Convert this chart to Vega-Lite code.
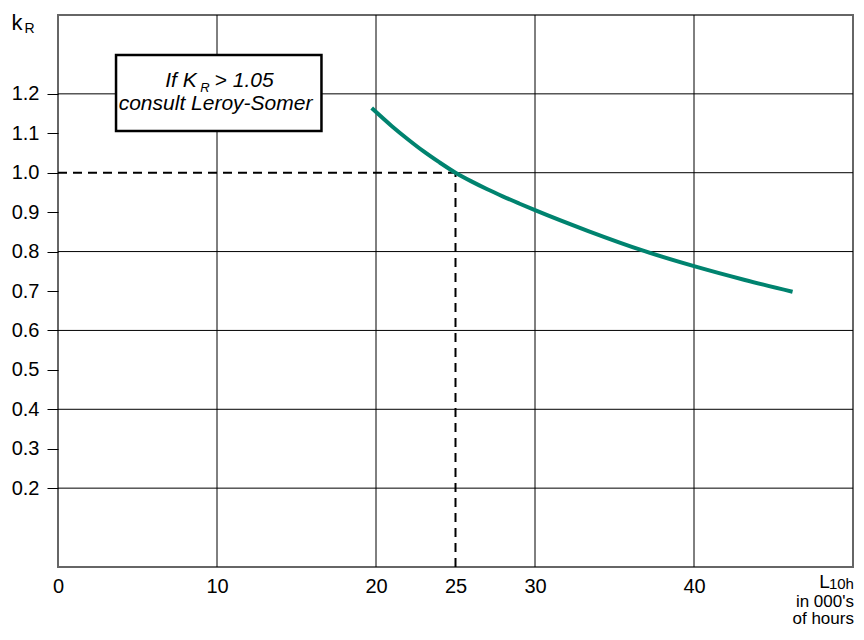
{
  "$schema": "https://vega.github.io/schema/vega-lite/v6.json",
  "width": 795,
  "height": 552,
  "autosize": "none",
  "padding": {"left": 58, "top": 15, "right": 11, "bottom": 73},
  "background": "white",
  "config": {
    "view": {"stroke": "#666666", "strokeWidth": 2},
    "font": "Liberation Sans",
    "axis": {"grid": false, "domain": false, "labelFont": "Liberation Sans", "labelFontSize": 20, "labelColor": "#000000", "title": null}
  },
  "layer": [
    {
      "data": {"values": [{"v": 10}, {"v": 20}, {"v": 30}, {"v": 40}]},
      "mark": {"type": "rule", "color": "#000000", "strokeWidth": 1},
      "encoding": {
        "x": {"field": "v", "type": "quantitative", "scale": {"domain": [0, 50], "nice": false, "zero": false},
          "axis": {"values": [0, 10, 20, 25, 30, 40], "ticks": false, "labelPadding": 9, "labelFlush": false, "labelOverlap": false}}
      }
    },
    {
      "data": {"values": [{"v": 0.2, "a": 0, "b": 50}, {"v": 0.4, "a": 0, "b": 50}, {"v": 0.6, "a": 0, "b": 50}, {"v": 0.8, "a": 0, "b": 50}, {"v": 1.0, "a": 25, "b": 50}, {"v": 1.2, "a": 0, "b": 50}]},
      "mark": {"type": "rule", "color": "#000000", "strokeWidth": 1},
      "encoding": {
        "y": {"field": "v", "type": "quantitative", "scale": {"domain": [0, 1.4], "nice": false, "zero": false},
          "axis": {"values": [0.2, 0.3, 0.4, 0.5, 0.6, 0.7, 0.8, 0.9, 1.0, 1.1, 1.2], "format": ".1f", "tickSize": 11, "tickColor": "#000000", "tickWidth": 1, "labelPadding": 8, "labelFlush": false, "labelOverlap": false}},
        "x": {"field": "a", "type": "quantitative"},
        "x2": {"field": "b"}
      }
    },
    {
      "data": {"values": [{"x1": 3.65, "x2": 16.57, "y1": 1.1057, "y2": 1.2985}]},
      "mark": {"type": "rect", "fill": "white", "stroke": "#000000", "strokeWidth": 2.5},
      "encoding": {
        "x": {"field": "x1", "type": "quantitative"},
        "x2": {"field": "x2"},
        "y": {"field": "y1", "type": "quantitative"},
        "y2": {"field": "y2"}
      }
    },
    {
      "data": {"values": [{"t": "If K", "x": 8.72, "y": 1.2174}]},
      "mark": {"type": "text", "align": "right", "baseline": "alphabetic", "fontSize": 21, "fontStyle": "italic", "color": "#000000"},
      "encoding": {"x": {"field": "x", "type": "quantitative"}, "y": {"field": "y", "type": "quantitative"}, "text": {"field": "t"}}
    },
    {
      "data": {"values": [{"t": "R", "x": 8.95, "y": 1.205}]},
      "mark": {"type": "text", "align": "left", "baseline": "alphabetic", "fontSize": 13, "fontStyle": "italic", "color": "#000000"},
      "encoding": {"x": {"field": "x", "type": "quantitative"}, "y": {"field": "y", "type": "quantitative"}, "text": {"field": "t"}}
    },
    {
      "data": {"values": [{"t": "> 1.05", "x": 9.85, "y": 1.2174}]},
      "mark": {"type": "text", "align": "left", "baseline": "alphabetic", "fontSize": 21, "fontStyle": "italic", "color": "#000000"},
      "encoding": {"x": {"field": "x", "type": "quantitative"}, "y": {"field": "y", "type": "quantitative"}, "text": {"field": "t"}}
    },
    {
      "data": {"values": [{"t": "consult Leroy-Somer", "x": 9.91, "y": 1.159}]},
      "mark": {"type": "text", "align": "center", "baseline": "alphabetic", "fontSize": 21, "fontStyle": "italic", "color": "#000000"},
      "encoding": {"x": {"field": "x", "type": "quantitative"}, "y": {"field": "y", "type": "quantitative"}, "text": {"field": "t"}}
    },
    {
      "data": {"values": [{"x1": 0, "x2": 25, "y1": 1.0, "y2": 1.0}, {"x1": 25, "x2": 25, "y1": 0, "y2": 1.0}]},
      "mark": {"type": "rule", "color": "#000000", "strokeWidth": 2, "strokeDash": [9, 6]},
      "encoding": {
        "x": {"field": "x1", "type": "quantitative"},
        "x2": {"field": "x2"},
        "y": {"field": "y1", "type": "quantitative"},
        "y2": {"field": "y2"}
      }
    },
    {
      "data": {"values": [
        {"L": 19.73, "k": 1.164},
        {"L": 21.0, "k": 1.118},
        {"L": 22.0, "k": 1.085},
        {"L": 23.0, "k": 1.054},
        {"L": 24.0, "k": 1.026},
        {"L": 25.0, "k": 1.0},
        {"L": 26.0, "k": 0.978},
        {"L": 27.0, "k": 0.958},
        {"L": 28.0, "k": 0.9395},
        {"L": 29.0, "k": 0.922},
        {"L": 30.0, "k": 0.905},
        {"L": 33.35, "k": 0.852},
        {"L": 36.9, "k": 0.801},
        {"L": 40.0, "k": 0.763},
        {"L": 43.2, "k": 0.728},
        {"L": 46.2, "k": 0.698}
      ]},
      "mark": {"type": "line", "color": "#00836f", "strokeWidth": 4, "interpolate": "monotone"},
      "encoding": {"x": {"field": "L", "type": "quantitative"}, "y": {"field": "k", "type": "quantitative"}}
    },
    {
      "data": {"values": [{"t": "k", "x": -2.93, "y": 1.362}]},
      "mark": {"type": "text", "align": "left", "baseline": "alphabetic", "fontSize": 22, "color": "#000000"},
      "encoding": {"x": {"field": "x", "type": "quantitative"}, "y": {"field": "y", "type": "quantitative"}, "text": {"field": "t"}}
    },
    {
      "data": {"values": [{"t": "R", "x": -2.1, "y": 1.355}]},
      "mark": {"type": "text", "align": "left", "baseline": "alphabetic", "fontSize": 14, "color": "#000000"},
      "encoding": {"x": {"field": "x", "type": "quantitative"}, "y": {"field": "y", "type": "quantitative"}, "text": {"field": "t"}}
    },
    {
      "data": {"values": [{"t": "L", "x": 48.55, "y": -0.0533}]},
      "mark": {"type": "text", "align": "right", "baseline": "alphabetic", "fontSize": 19, "color": "#000000"},
      "encoding": {"x": {"field": "x", "type": "quantitative"}, "y": {"field": "y", "type": "quantitative"}, "text": {"field": "t"}}
    },
    {
      "data": {"values": [{"t": "10h", "x": 50.06, "y": -0.057}]},
      "mark": {"type": "text", "align": "right", "baseline": "alphabetic", "fontSize": 15, "color": "#000000"},
      "encoding": {"x": {"field": "x", "type": "quantitative"}, "y": {"field": "y", "type": "quantitative"}, "text": {"field": "t"}}
    },
    {
      "data": {"values": [{"t": "in 000's", "x": 50.06, "y": -0.1004}, {"t": "of hours", "x": 50.06, "y": -0.1456}]},
      "mark": {"type": "text", "align": "right", "baseline": "alphabetic", "fontSize": 17, "color": "#000000"},
      "encoding": {"x": {"field": "x", "type": "quantitative"}, "y": {"field": "y", "type": "quantitative"}, "text": {"field": "t"}}
    }
  ]
}
